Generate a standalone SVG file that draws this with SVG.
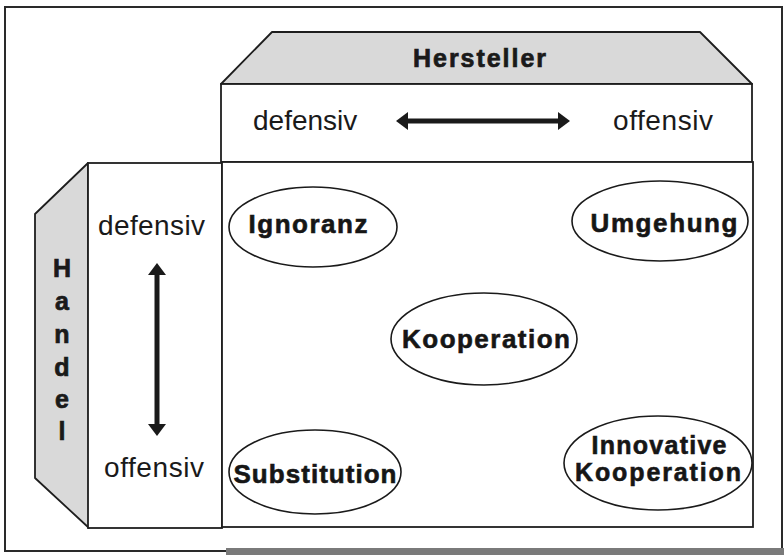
<svg xmlns="http://www.w3.org/2000/svg" width="784" height="555" viewBox="0 0 784 555">
  <defs>
    <marker id="head" viewBox="0 0 12 18" refX="1" refY="9" markerWidth="12" markerHeight="18" markerUnits="userSpaceOnUse" orient="auto-start-reverse">
      <path d="M0,0 L12,9 L0,18 Z" fill="#1a1a1a"/>
    </marker>
    <style>
      .frame { fill: none; stroke: #2a2a2a; stroke-width: 2; }
      .box { fill: #fff; stroke: #1e1e1e; stroke-width: 1.8; }
      .face { fill: #d9d9d9; stroke: #1e1e1e; stroke-width: 1.8; stroke-linejoin: round; }
      .oval { fill: #fff; stroke: #1a1a1a; stroke-width: 1.6; }
      .axis { font-family: "Liberation Sans", Arial, sans-serif; font-size: 28px; fill: #1a1a1a; }
      .title { font-family: "Liberation Sans", Arial, sans-serif; font-size: 25px; font-weight: bold; fill: #1a1a1a; stroke: #1a1a1a; stroke-width: 0.7; }
      .lbl { font-family: "Liberation Sans", Arial, sans-serif; font-size: 26px; font-weight: bold; fill: #161616; stroke: #161616; stroke-width: 0.6; text-anchor: middle; }
      .lbl2 { font-size: 25px; }
      .arrow { stroke: #1a1a1a; stroke-width: 5; fill: none; }
    </style>
  </defs>

  <rect width="784" height="555" fill="#fff"/>

  <!-- outer frame -->
  <rect class="frame" x="5" y="7" width="777" height="544"/>
  <rect x="226" y="548" width="558" height="7" fill="#7a7a7a"/>

  <!-- Hersteller axis (top) -->
  <g id="hersteller">
    <polygon class="face" points="272,32 700,32 752,84 221,84"/>
    <text class="title" x="413" y="67" textLength="133" lengthAdjust="spacing">Hersteller</text>
    <rect class="box" x="221" y="84" width="531" height="78"/>
    <text class="axis" x="253" y="130">defensiv</text>
    <text class="axis" x="613" y="130" textLength="100" lengthAdjust="spacing">offensiv</text>
  </g>

  <!-- Handel axis (left) -->
  <g id="handel">
    <polygon class="face" points="88,163 35,214 35,478 89,528"/>
    <rect class="box" x="88" y="163" width="134" height="365"/>
    <g class="title" text-anchor="middle">
      <text x="62" y="277">H</text>
      <text x="62" y="310">a</text>
      <text x="62" y="343">n</text>
      <text x="62" y="376">d</text>
      <text x="62" y="408">e</text>
      <text x="62" y="440">l</text>
    </g>
    <text class="axis" x="98" y="235" textLength="107" lengthAdjust="spacing">defensiv</text>
    <text class="axis" x="104" y="477" textLength="100" lengthAdjust="spacing">offensiv</text>
  </g>

  <!-- strategy matrix -->
  <g id="matrix">
    <rect class="box" x="222" y="162" width="531" height="365"/>
  </g>

  <g id="ignoranz">
    <ellipse class="oval" cx="313" cy="227" rx="84" ry="40"/>
    <text class="lbl" x="308" y="233" textLength="119" lengthAdjust="spacing">Ignoranz</text>
  </g>
  <g id="umgehung">
    <ellipse class="oval" cx="660" cy="221" rx="88" ry="40"/>
    <text class="lbl" x="664" y="232" textLength="147" lengthAdjust="spacing">Umgehung</text>
  </g>
  <g id="kooperation">
    <ellipse class="oval" cx="484" cy="339" rx="93" ry="46"/>
    <text class="lbl" x="486" y="348" textLength="168" lengthAdjust="spacing">Kooperation</text>
  </g>
  <g id="substitution">
    <ellipse class="oval" cx="315" cy="472" rx="86" ry="42"/>
    <text class="lbl" x="315" y="483" textLength="163" lengthAdjust="spacing">Substitution</text>
  </g>
  <g id="innovative-kooperation">
    <ellipse class="oval" cx="658" cy="463" rx="94" ry="47"/>
    <text class="lbl lbl2" x="659" y="454" textLength="135" lengthAdjust="spacing">Innovative</text>
    <text class="lbl lbl2" x="658" y="481" textLength="166" lengthAdjust="spacing">Kooperation</text>
  </g>

  <!-- double-headed axis arrows -->
  <g id="connectors">
    <path class="arrow" d="M407,121 L559,121" marker-start="url(#head)" marker-end="url(#head)"/>
    <path class="arrow" d="M157,274 L157,425" marker-start="url(#head)" marker-end="url(#head)"/>
  </g>
</svg>
